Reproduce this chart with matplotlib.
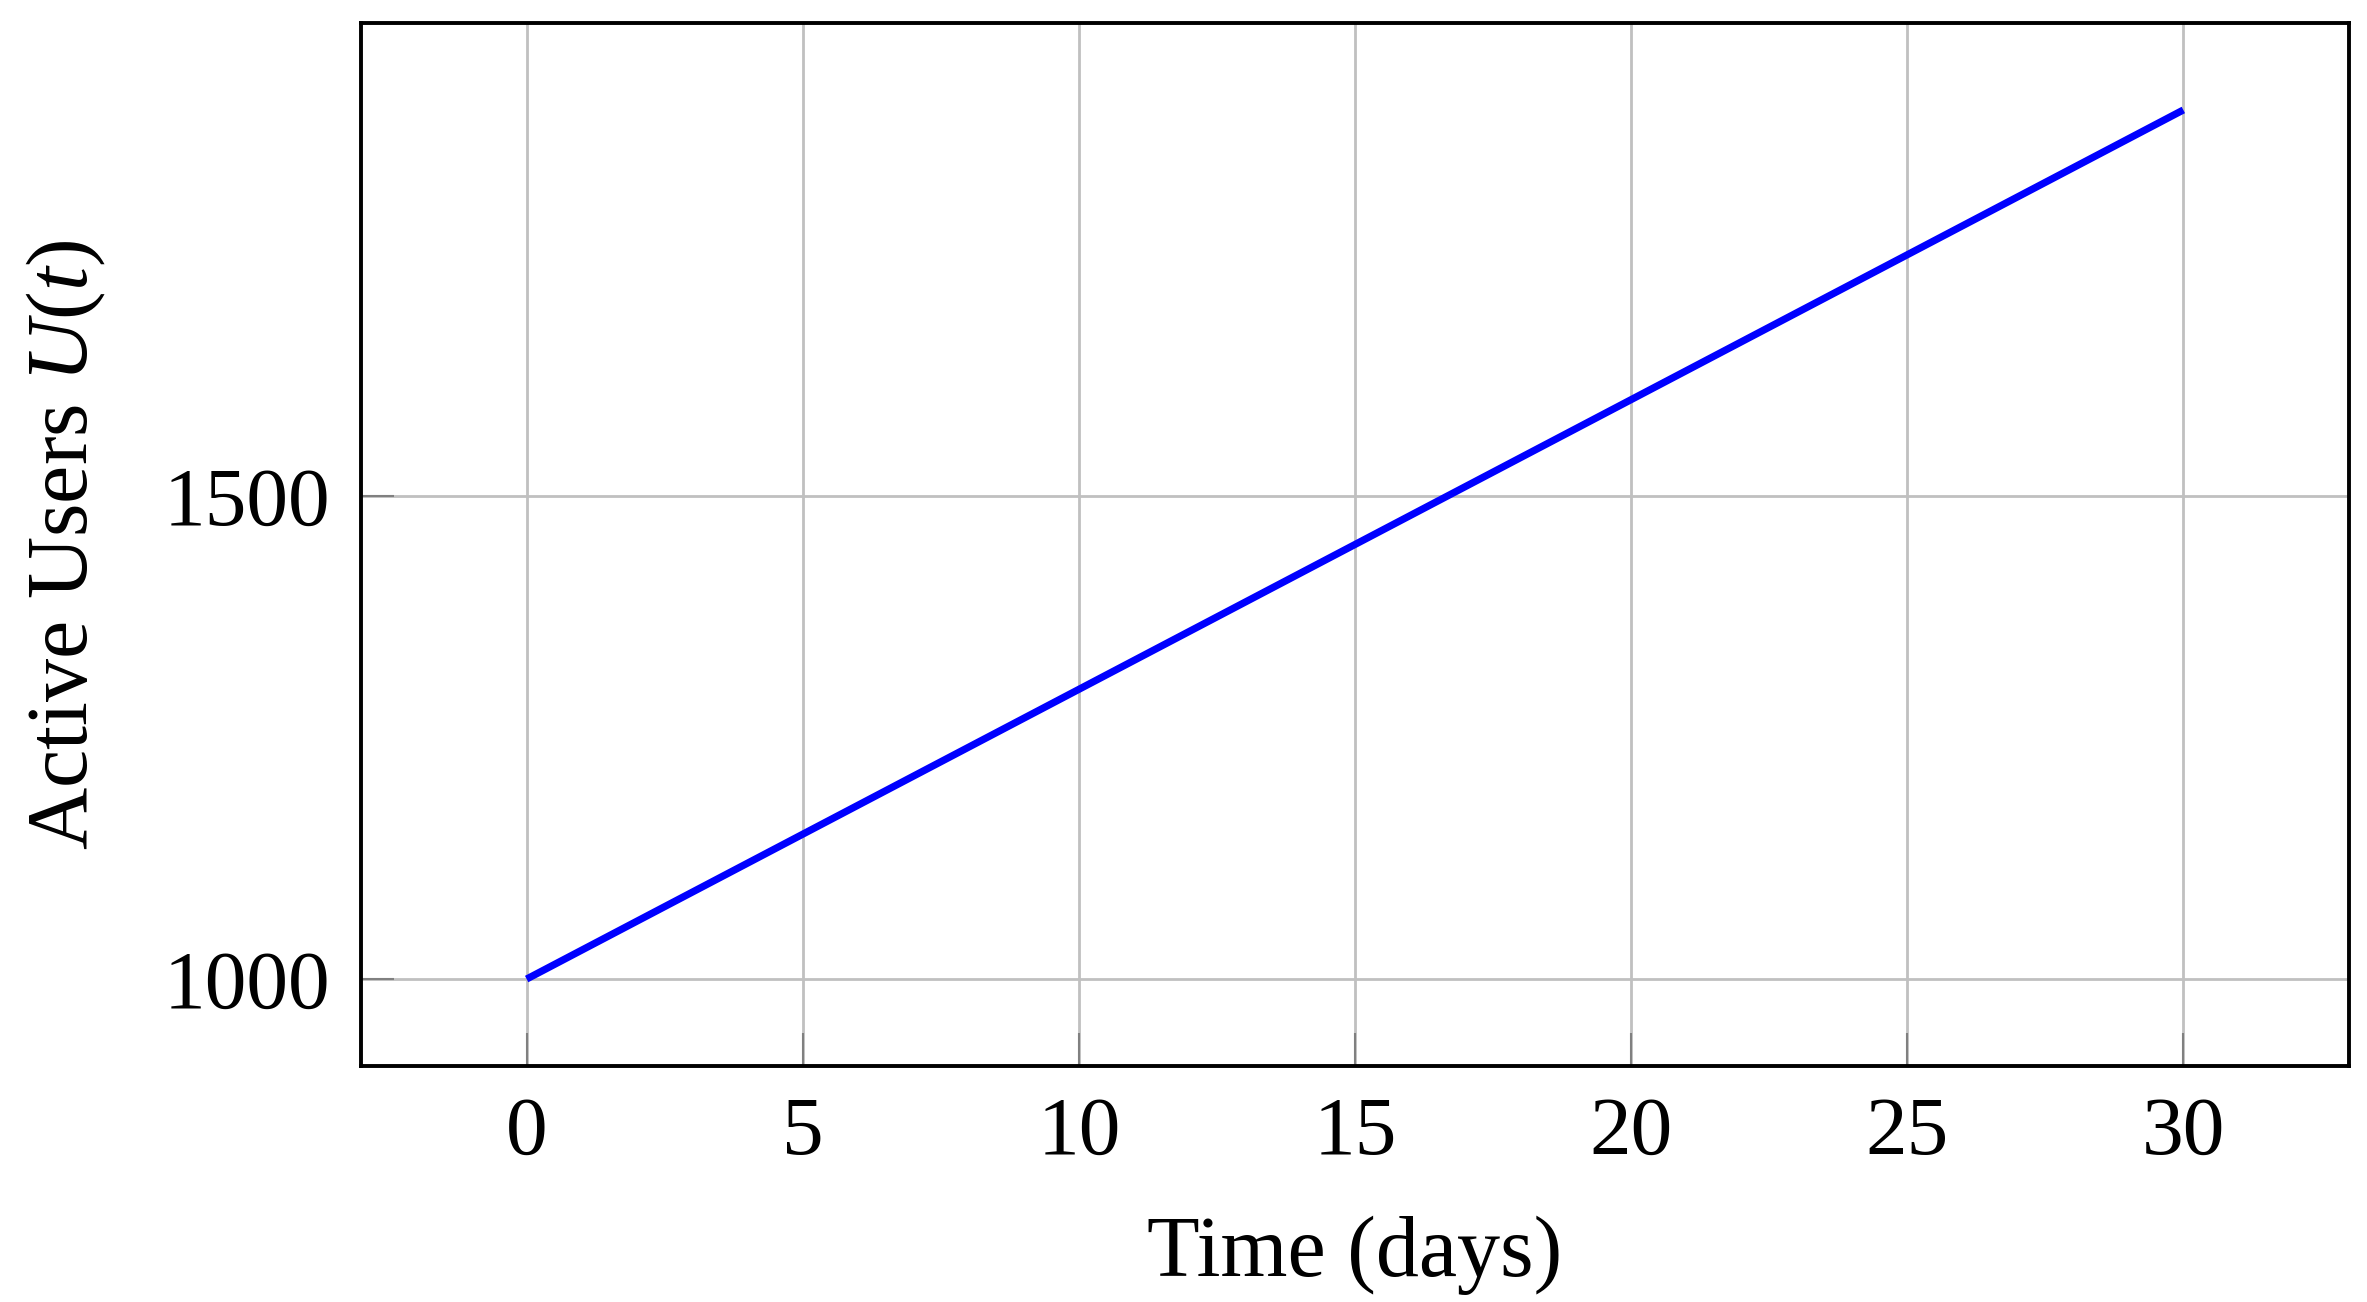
import matplotlib
matplotlib.use("Agg")
import matplotlib.pyplot as plt

# Data
days = [0, 5, 10, 15, 20, 25, 30]
users = [1000, 1150, 1300, 1450, 1600, 1750, 1900]
x_ticks = [0, 5, 10, 15, 20, 25, 30]
y_ticks = [1000, 1500]

plt.rcParams['font.family'] = ['Liberation Serif', 'DejaVu Serif']
plt.rcParams['mathtext.fontset'] = 'custom'
plt.rcParams['mathtext.rm'] = 'Liberation Serif'
plt.rcParams['mathtext.it'] = 'Liberation Serif:italic'

fig = plt.figure(figsize=(23.67, 13.02), dpi=100)
ax = fig.add_axes([0.1525, 0.1813, 0.8399, 0.8010])

ax.plot(days, users, color='#0000ff', linewidth=5.2, solid_capstyle='butt', zorder=3)

ax.set_xlim(-3, 33)
ax.set_ylim(910, 1990)
ax.set_xticks(x_ticks)
ax.set_yticks(y_ticks)
ax.grid(True, color='#c0c0c0', linewidth=2.0, zorder=0)
ax.set_axisbelow(True)

ax.tick_params(direction='in', length=24, width=1.5, color='#808080',
               labelsize=60, pad=22)
for s in ax.spines.values():
    s.set_linewidth(2.8)

ax.set_xlabel('Time (days)', fontsize=62, labelpad=31)
ax.set_ylabel(r'Active Users $U(t)$', fontsize=62, labelpad=40)

fig.savefig('out.png', dpi=100)
